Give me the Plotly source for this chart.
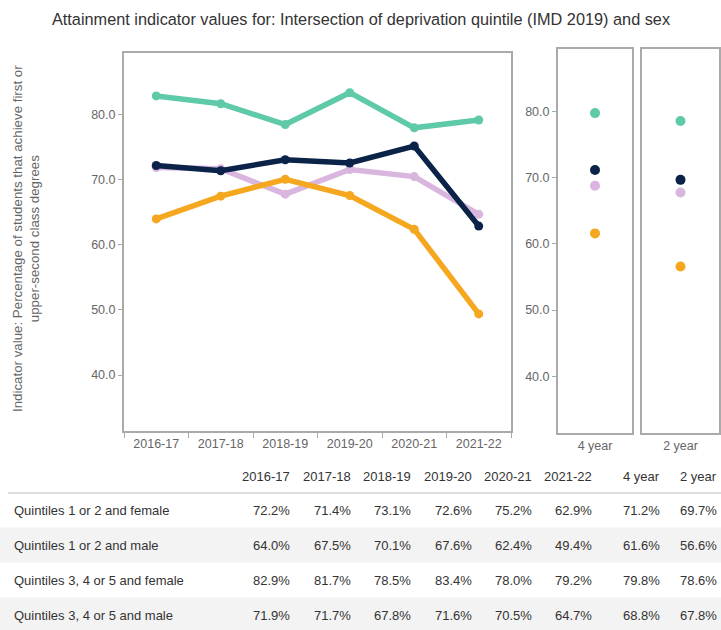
import plotly.graph_objects as go

years = ["2016-17", "2017-18", "2018-19", "2019-20", "2020-21", "2021-22"]
agg_labels = ["4 year", "2 year"]
groups = [
    "Quintiles 1 or 2 and female",
    "Quintiles 1 or 2 and male",
    "Quintiles 3, 4 or 5 and female",
    "Quintiles 3, 4 or 5 and male",
]
q12_female = [72.2, 71.4, 73.1, 72.6, 75.2, 62.9]
q12_male = [64.0, 67.5, 70.1, 67.6, 62.4, 49.4]
q345_female = [82.9, 81.7, 78.5, 83.4, 78.0, 79.2]
q345_male = [71.9, 71.7, 67.8, 71.6, 70.5, 64.7]
q12_female_agg = [71.2, 69.7]
q12_male_agg = [61.6, 56.6]
q345_female_agg = [79.8, 78.6]
q345_male_agg = [68.8, 67.8]

series = [q12_female, q12_male, q345_female, q345_male]
series_agg = [q12_female_agg, q12_male_agg, q345_female_agg, q345_male_agg]
colors = ["#0b2348", "#f5a81f", "#5ecaa9", "#d8b6de"]
draw_order = [3, 2, 1, 0]

W, H = 721, 630
def px(x):
    return x / W
def py(y):
    return 1 - y / H

FONT = "Liberation Sans, Arial"

fig = go.Figure()

for i in draw_order:
    fig.add_trace(go.Scatter(
        x=years, y=series[i], mode="lines+markers", name=groups[i],
        line=dict(color=colors[i], width=5.5), marker=dict(color=colors[i], size=9),
        xaxis="x", yaxis="y", showlegend=False))
for i in draw_order:
    for j, lab in enumerate(agg_labels):
        fig.add_trace(go.Scatter(
            x=[lab], y=[series_agg[i][j]], mode="markers", name=groups[i],
            marker=dict(color=colors[i], size=10),
            xaxis="x2" if j == 0 else "x3", yaxis="y2" if j == 0 else "y3",
            showlegend=False))

yr = [31.4, 89.5]
tickv = [40, 50, 60, 70, 80]
axcol = "#aaaaaa"
tickfont = dict(family=FONT, size=12.5, color="#666666")

common_y = dict(range=yr, tickvals=tickv, tickformat=".1f", showgrid=False, zeroline=False,
                showline=True, linecolor=axcol, linewidth=2, mirror=True,
                ticks="outside", ticklen=4, tickcolor=axcol, tickfont=tickfont)
common_x = dict(showgrid=False, zeroline=False, showline=True, linecolor=axcol,
                linewidth=2, mirror=True, tickfont=tickfont, type="category")

fig.update_layout(
    width=W, height=H,
    margin=dict(l=0, r=0, t=0, b=0),
    paper_bgcolor="white", plot_bgcolor="white",
    font=dict(family=FONT, color="#444444"),
    title=dict(text="Attainment indicator values for: Intersection of deprivation quintile (IMD 2019) and sex",
               x=px(361), xanchor="center", y=py(19), yanchor="middle",
               font=dict(size=16.3, color="#333333")),
    xaxis=dict(common_x, domain=[px(124), px(511)], range=[-0.5, 5.5],
               ticks="outside", tickson="boundaries", ticklen=5, tickcolor=axcol, anchor="y"),
    yaxis=dict(common_y, domain=[py(431), py(53)], anchor="x"),
    xaxis2=dict(common_x, domain=[px(558), px(632)], range=[-0.5, 0.5], anchor="y2"),
    yaxis2=dict(common_y, domain=[py(433), py(49)], anchor="x2"),
    xaxis3=dict(common_x, domain=[px(642), px(719)], range=[-0.5, 0.5], anchor="y3"),
    yaxis3=dict(common_y, domain=[py(433), py(49)], anchor="x3", showticklabels=False, ticks=""),
)

# Table built from the data arrays
cols = years + agg_labels
col_right = [292, 353, 413, 474, 534, 594, 662, 719]
header_y = 476
row_y = [510, 545, 580, 615]
row_h = 35
tfont = dict(family=FONT, size=13, color="#333333")

shapes = []
for r in range(len(groups)):
    if r % 2 == 1:
        shapes.append(dict(type="rect", xref="paper", yref="paper",
                           x0=0, x1=1, y0=py(row_y[r] + row_h / 2), y1=py(row_y[r] - row_h / 2),
                           fillcolor="#f3f3f3", line=dict(width=0), layer="below"))
shapes.append(dict(type="line", xref="paper", yref="paper", x0=px(8), x1=1,
                   y0=py(493), y1=py(493), line=dict(color="#dddddd", width=2)))

annotations = [dict(
    text="Indicator value: Percentage of students that achieve first or<br>upper-second class degrees",
    x=px(26), y=py(239), xref="paper", yref="paper", xanchor="center", yanchor="middle",
    textangle=-90, showarrow=False, font=dict(family=FONT, size=13.3, color="#666666"))]
for c, lab in enumerate(cols):
    annotations.append(dict(text=lab, x=px(col_right[c]), y=py(header_y), xref="paper", yref="paper",
                            xanchor="right", yanchor="middle", showarrow=False, font=tfont))
for r, g in enumerate(groups):
    annotations.append(dict(text=g, x=px(12), y=py(row_y[r]), xref="paper", yref="paper",
                            xanchor="left", yanchor="middle", showarrow=False, font=tfont))
    vals = series[r] + series_agg[r]
    for c, v in enumerate(vals):
        annotations.append(dict(text=f"{v:.1f}%", x=px(col_right[c]), y=py(row_y[r]),
                                xref="paper", yref="paper", xanchor="right", yanchor="middle",
                                showarrow=False, font=tfont))

fig.update_layout(shapes=shapes, annotations=annotations)
fig.write_html("out.html", config={"displayModeBar": False},
               post_script="document.body.style.margin='0';document.body.style.overflow='hidden';")
